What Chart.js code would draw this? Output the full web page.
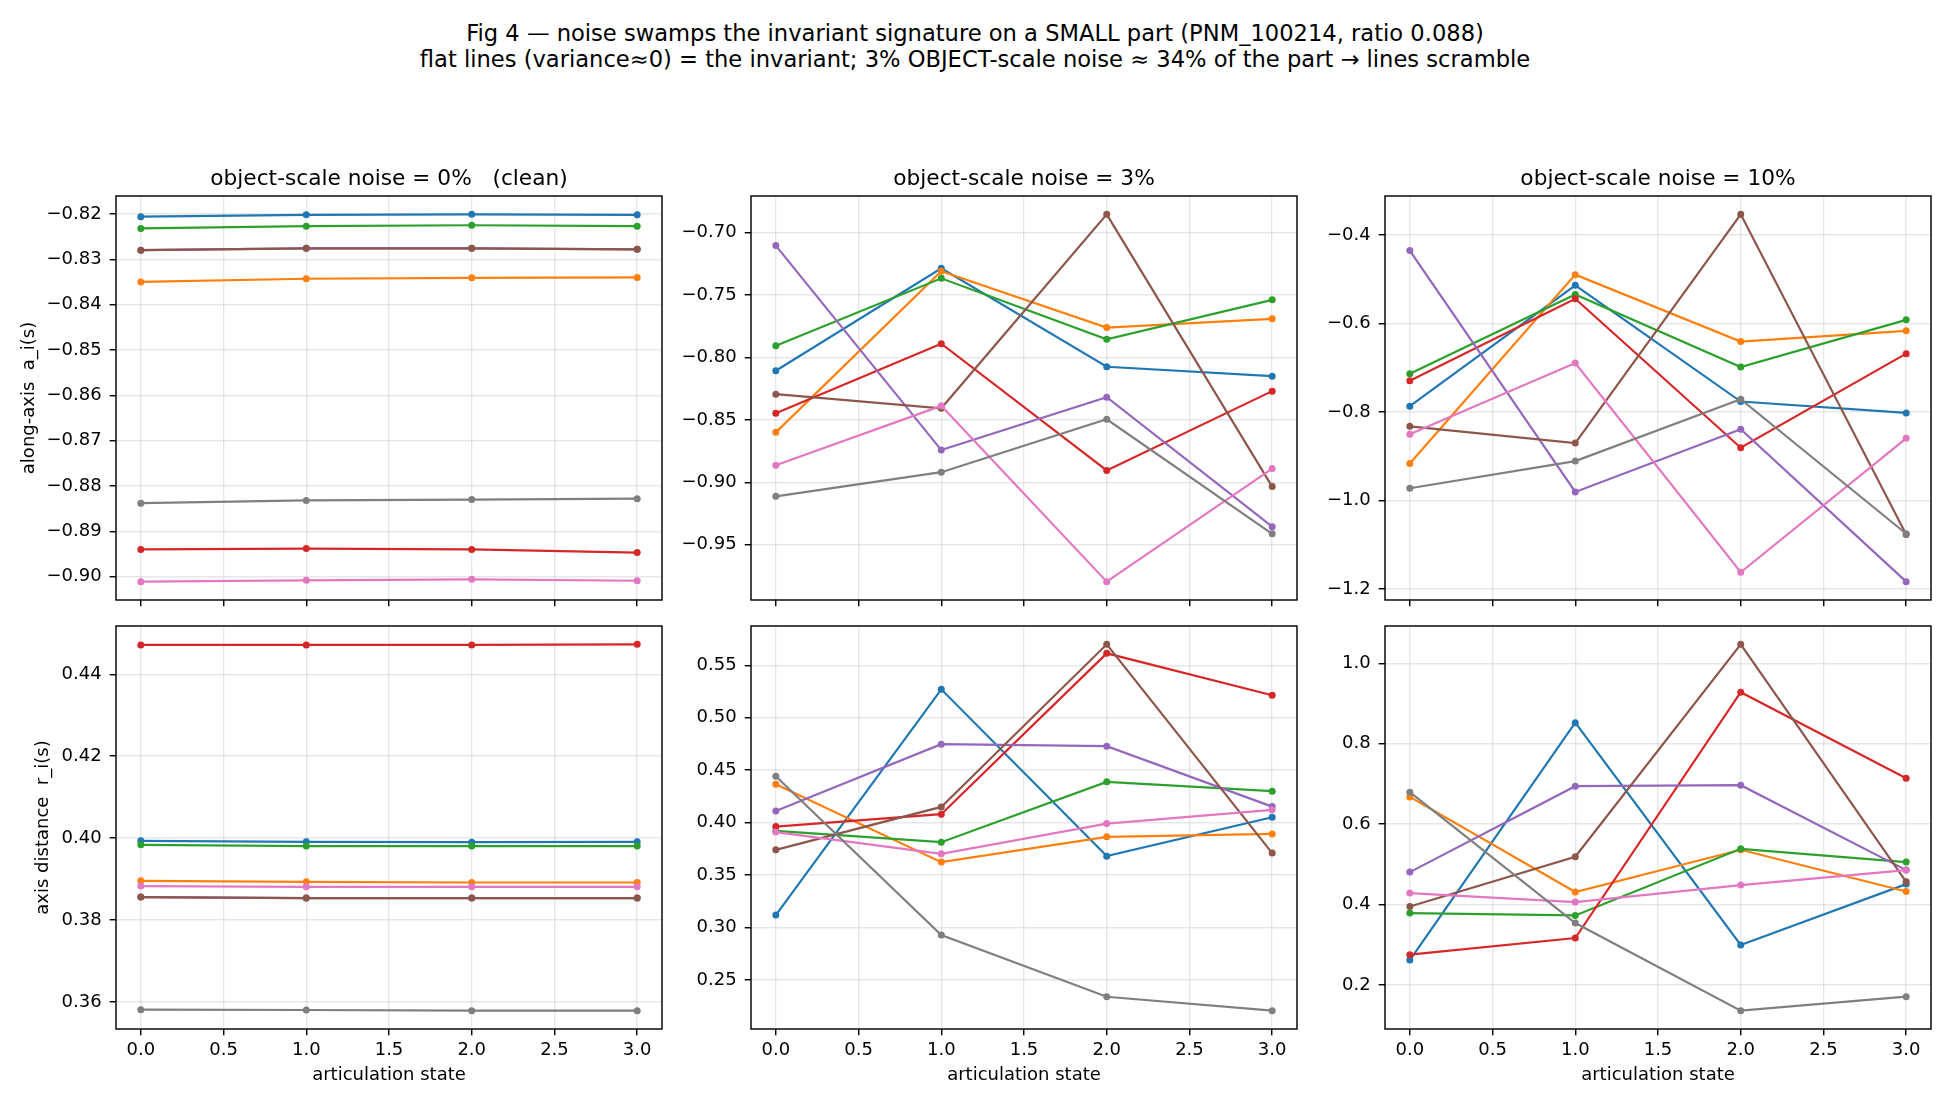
<!DOCTYPE html>
<html><head><meta charset="utf-8">
<script src="https://cdn.jsdelivr.net/npm/chart.js@4.4.0/dist/chart.umd.min.js"></script>
<style>
html,body{margin:0;padding:0;background:#fff;width:1950px;height:1105px;overflow:hidden;}
#sup{position:absolute;left:0;top:19.5px;width:1950px;text-align:center;font-family:'DejaVu Sans';font-size:22.6px;line-height:26px;color:#000;white-space:pre;}
canvas{position:absolute;}
</style></head><body>
<div id="sup">Fig 4 — noise swamps the invariant signature on a SMALL part (PNM_100214, ratio 0.088)
flat lines (variance≈0) = the invariant; 3% OBJECT-scale noise ≈ 34% of the part → lines scramble</div>
<script>
// ---------------- data ----------------
const states = [0, 1, 2, 3];
const xTicks = [0, 0.5, 1, 1.5, 2, 2.5, 3];
const seriesColors = ['#1f77b4','#ff7f0e','#2ca02c','#d62728','#9467bd','#8c564b','#e377c2','#7f7f7f'];

// along-axis a_i(s); rows = parts (blue, orange, green, red, purple, brown, pink, gray)
const alongNoise0 = [
  [-0.8206,-0.8202,-0.8201,-0.8202],
  [-0.8350,-0.8343,-0.8341,-0.8340],
  [-0.8232,-0.8227,-0.8225,-0.8227],
  [-0.8940,-0.8938,-0.8940,-0.8947],
  [-0.8280,-0.8276,-0.8276,-0.8278],
  [-0.8280,-0.8276,-0.8276,-0.8278],
  [-0.9011,-0.9008,-0.9006,-0.9009],
  [-0.8838,-0.8832,-0.8830,-0.8828]
];
const alongNoise3 = [
  [-0.8107,-0.7287,-0.8075,-0.8150],
  [-0.8600,-0.7311,-0.7761,-0.7691],
  [-0.7906,-0.7367,-0.7855,-0.7539],
  [-0.8447,-0.7890,-0.8905,-0.8270],
  [-0.7105,-0.8742,-0.8318,-0.9355],
  [-0.8294,-0.8407,-0.6855,-0.9034],
  [-0.8863,-0.8388,-0.9795,-0.8890],
  [-0.9112,-0.8919,-0.8495,-0.9412]
];
const alongNoise10 = [
  [-0.7867,-0.5135,-0.7762,-0.8019],
  [-0.9161,-0.4893,-0.6407,-0.6164],
  [-0.7134,-0.5340,-0.6982,-0.5915],
  [-0.7292,-0.5438,-0.8807,-0.6679],
  [-0.4348,-0.9806,-0.8390,-1.1834],
  [-0.8322,-0.8700,-0.3530,-1.0767],
  [-0.8504,-0.6891,-1.1622,-0.8594],
  [-0.9722,-0.9109,-0.7708,-1.0751]
];
// axis distance r_i(s)
const radiusNoise0 = [
  [0.39934,0.39910,0.39900,0.39910],
  [0.38958,0.38934,0.38917,0.38917],
  [0.39837,0.39805,0.39805,0.39805],
  [0.44715,0.44715,0.44715,0.44730],
  [0.38561,0.38537,0.38537,0.38537],
  [0.38561,0.38537,0.38537,0.38537],
  [0.38829,0.38812,0.38812,0.38812],
  [0.35812,0.35805,0.35788,0.35788]
];
const radiusNoise3 = [
  [0.3119,0.5271,0.3681,0.4052],
  [0.4367,0.3624,0.3865,0.3893],
  [0.3922,0.3814,0.4389,0.4300],
  [0.3963,0.4081,0.5614,0.5214],
  [0.4112,0.4748,0.4729,0.4153],
  [0.3741,0.4150,0.5700,0.3710],
  [0.3910,0.3703,0.3991,0.4122],
  [0.4443,0.2929,0.2341,0.2208]
];
const radiusNoise10 = [
  [0.2621,0.8524,0.2994,0.4509],
  [0.6678,0.4311,0.5362,0.4326],
  [0.3789,0.3729,0.5386,0.5056],
  [0.2753,0.3168,0.9280,0.7143],
  [0.4807,0.6944,0.6969,0.4857],
  [0.3953,0.5188,1.0472,0.4567],
  [0.4286,0.4062,0.4484,0.4857],
  [0.6795,0.3540,0.1361,0.1710]
];
// y tick values per panel
const yTicksAlong0  = [-0.90,-0.89,-0.88,-0.87,-0.86,-0.85,-0.84,-0.83,-0.82];
const yTicksAlong3  = [-0.95,-0.90,-0.85,-0.80,-0.75,-0.70];
const yTicksAlong10 = [-1.2,-1.0,-0.8,-0.6,-0.4];
const yTicksRad0    = [0.36,0.38,0.40,0.42,0.44];
const yTicksRad3    = [0.25,0.30,0.35,0.40,0.45,0.50,0.55];
const yTicksRad10   = [0.2,0.4,0.6,0.8,1.0];
const panelTitles = ['object-scale noise = 0%   (clean)','object-scale noise = 3%','object-scale noise = 10%'];

// ---------------- layout / style ----------------
const FONT = 'DejaVu Sans';
const TICK_PX = 18;
const TITLE_PX = 21.7;
const colLeft = [116.3, 750.7, 1384.7];
const plotW = 546;
const YW = 116;
const panels = [
  {data: alongNoise0,  yt: yTicksAlong0,  dec: 2, col: 0, row: 0, title: panelTitles[0], ylabel: 'along-axis  a_i(s)', ylabX: 29.5},
  {data: alongNoise3,  yt: yTicksAlong3,  dec: 2, col: 1, row: 0, title: panelTitles[1]},
  {data: alongNoise10, yt: yTicksAlong10, dec: 1, col: 2, row: 0, title: panelTitles[2]},
  {data: radiusNoise0,  yt: yTicksRad0,  dec: 2, col: 0, row: 1, ylabel: 'axis distance  r_i(s)', ylabX: 43},
  {data: radiusNoise3,  yt: yTicksRad3,  dec: 2, col: 1, row: 1},
  {data: radiusNoise10, yt: yTicksRad10, dec: 1, col: 2, row: 1}
];
const rowGeom = [
  {top: 196, h: 404, padTop: 0, titleH: 40, xH: 22},
  {top: 626, h: 403, padTop: 20, titleH: 0, xH: 60}
];

function fmt(v, d) { return v.toFixed(d).replace('-', '\u2212'); }
function dataRange(arr) {
  let mn = Infinity, mx = -Infinity;
  arr.forEach(r => r.forEach(v => { mn = Math.min(mn, v); mx = Math.max(mx, v); }));
  const m = 0.05 * (mx - mn);
  return [mn - m, mx + m];
}
const framePlugin = {
  id: 'frame',
  afterDatasetsDraw(chart) {
    const {ctx, chartArea: a} = chart;
    ctx.save();
    ctx.strokeStyle = '#000';
    ctx.lineWidth = 1.44;
    ctx.strokeRect(a.left, a.top, a.right - a.left, a.bottom - a.top);
    ctx.restore();
  }
};
const gridOpts = {color: 'rgba(176,176,176,0.3)', lineWidth: 1.44, tickColor: '#000', tickWidth: 1.44, tickLength: 6.3, drawTicks: true};

panels.forEach((p, idx) => {
  const g = rowGeom[p.row];
  const left0 = colLeft[p.col] - YW;
  const top0 = p.row === 0 ? g.top - g.titleH : g.top - g.padTop;
  const cv = document.createElement('canvas');
  const W = YW + plotW + 10;
  const H = (p.row === 0 ? g.titleH : g.padTop) + g.h + g.xH;
  cv.width = W; cv.height = H;
  cv.style.left = left0 + 'px';
  cv.style.top = top0 + 'px';
  cv.style.width = W + 'px'; cv.style.height = H + 'px';
  document.body.appendChild(cv);
  const yr = dataRange(p.data);
  const showX = p.row === 1;
  new Chart(cv, {
    type: 'line',
    data: {
      labels: states,
      datasets: p.data.map((vals, i) => ({
        data: vals.map((v, j) => ({x: states[j], y: v})),
        borderColor: seriesColors[i],
        backgroundColor: seriesColors[i],
        pointBackgroundColor: seriesColors[i],
        pointBorderWidth: 0,
        pointRadius: 3.5,
        pointHoverRadius: 3.5,
        borderWidth: 2.2,
        tension: 0,
        fill: false,
        order: p.data.length - 1 - i
      }))
    },
    options: {
      responsive: false,
      animation: false,
      devicePixelRatio: 1,
      layout: {padding: {top: p.row === 0 ? 0 : g.padTop, right: 10, left: 0, bottom: 0}},
      plugins: {
        legend: {display: false},
        tooltip: {enabled: false},
        title: {
          display: p.row === 0,
          text: p.title || '',
          fullSize: false,
          color: '#000',
          font: {family: FONT, size: TITLE_PX, weight: 'normal'},
          padding: {top: 10.5, bottom: 3.46}
        }
      },
      scales: {
        x: {
          type: 'linear', min: -0.15, max: 3.15,
          afterBuildTicks: s => { s.ticks = xTicks.map(v => ({value: v})); },
          afterFit: s => { s.height = g.xH; },
          grid: gridOpts,
          border: {display: false},
          ticks: {display: showX, color: '#000', font: {family: FONT, size: TICK_PX}, padding: 3.9, maxRotation: 0, autoSkip: false, callback: v => fmt(v, 1)},
          title: {display: showX, text: 'articulation state', color: '#000', font: {family: FONT, size: TICK_PX}, padding: {top: 0, bottom: 2.7}}
        },
        y: {
          type: 'linear', min: yr[0], max: yr[1],
          afterBuildTicks: s => { s.ticks = p.yt.map(v => ({value: v})); },
          afterFit: s => { s.width = YW; },
          grid: gridOpts,
          border: {display: false},
          ticks: {color: '#000', font: {family: FONT, size: TICK_PX}, padding: 8, autoSkip: false, callback: v => fmt(v, p.dec)},
          title: {display: !!p.ylabel, text: p.ylabel || '', color: '#000', font: {family: FONT, size: TICK_PX}, padding: {top: (p.ylabX || 30) - TICK_PX * 0.6, bottom: 0}}
        }
      }
    },
    plugins: [framePlugin]
  });
});
</script>
</body></html>
